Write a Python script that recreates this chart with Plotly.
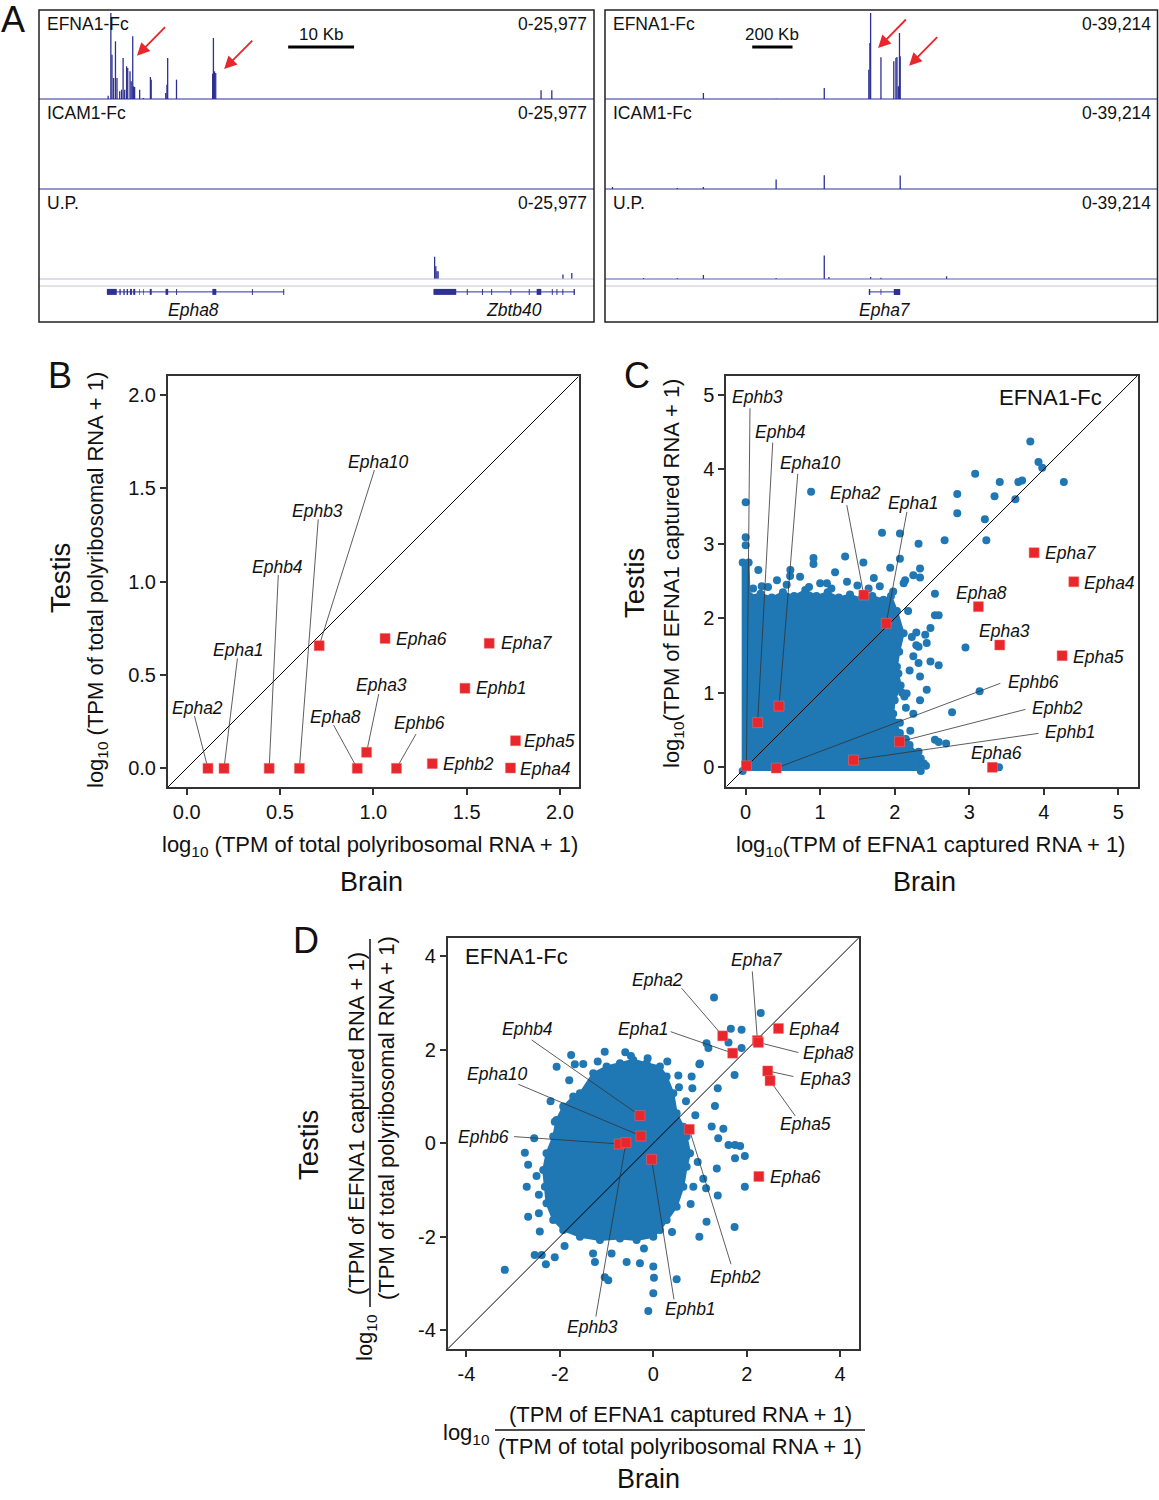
import plotly.graph_objects as go

W, H = 1159, 1500
FONT = "Liberation Sans, Arial, sans-serif"
BLUE = "#1f77b4"
RED = "#e8262b"
NAVY = "#2e3192"

# ---------------- panel A: coverage tracks ----------------
# left locus, x = kb from left edge of the view
a_left_span = 84.2
a_left_max = 25977
efna1_left_pos = [10.49, 10.90, 11.07, 11.31, 11.60, 11.83, 12.24, 12.53, 12.76, 13.00, 13.29, 13.46,
                  13.81, 13.99, 14.22, 14.34, 14.51, 15.27, 15.85, 16.90, 17.02, 19.23, 19.41, 19.52,
                  20.86, 26.34, 26.46, 26.63, 26.81, 76.17, 77.80]
efna1_left_val = [1000, 25977, 13390, 6340, 17420, 6340, 2320, 2820, 12380, 2820, 9870, 9360,
                  8360, 5340, 18930, 3830, 3620, 2820, 300, 6650, 5840, 1810, 4330, 12380,
                  5840, 7650, 18430, 8360, 7850, 2620, 2620]
icam1_left_pos = []
icam1_left_val = []
up_left_pos = [60.02, 60.20, 60.37, 60.55, 79.49, 80.83]
up_left_val = [6650, 3830, 2320, 2320, 1310, 1810]
genes_left = ["Epha8", "Zbtb40"]
genes_left_span = [(10.3, 37.2), (59.85, 81.3)]
genes_left_exons = [
    [(10.3, 11.8), (12.2, 12.4), (12.8, 13.0), (13.3, 13.5), (13.8, 14.1), (14.3, 14.6), (15.2, 15.3),
     (15.8, 15.9), (16.8, 17.1), (19.2, 19.6), (20.8, 20.95), (26.3, 26.9), (32.3, 32.45), (37.05, 37.2)],
    [(59.85, 63.3), (64.9, 65.05), (67.2, 67.35), (68.6, 68.75), (71.5, 71.65), (74.3, 74.45),
     (75.5, 76.2), (77.8, 77.95), (78.5, 78.65), (79.4, 79.55), (81.1, 81.3)],
]
genes_left_label_x = [23.4, 72.1]

# right locus
a_right_span = 2743
a_right_max = 39214
efna1_right_pos = [488.5, 849.6, 1088.6, 1309.8, 1315.1, 1318.7, 1370.0, 1433.7, 1444.3, 1449.6,
                   1456.7, 1462.0, 1465.6]
efna1_right_val = [2736, 152, 5016, 13375, 25535, 39214, 19000, 17175, 18695, 19150, 5776, 30095, 19455]
icam1_right_pos = [37.2, 359.3, 488.5, 849.6, 1088.6, 1465.6]
icam1_right_val = [912, 456, 912, 4256, 6232, 6080]
up_right_pos = [191.2, 359.3, 488.5, 849.6, 1088.6, 1111.6, 1318.7, 1370.0, 1695.7]
up_right_val = [456, 456, 1824, 456, 10640, 912, 912, 608, 1216]
genes_right = ["Epha7"]
genes_right_span = [(1309.8, 1465.6)]
genes_right_exons = [[(1309.8, 1316.9), (1368.0, 1372.0), (1433.7, 1465.6)]]
genes_right_label_x = [1389.5]

track_names = ["EFNA1-Fc", "ICAM1-Fc", "U.P."]

# ---------------- panel B ----------------
b_genes = ["Epha2", "Epha1", "Ephb4", "Ephb3", "Epha10", "Epha6", "Epha7", "Epha3", "Epha8", "Ephb6",
           "Ephb2", "Ephb1", "Epha5", "Epha4"]
b_x = [0.114, 0.20, 0.442, 0.604, 0.71, 1.063, 1.621, 0.964, 0.914, 1.124, 1.316, 1.491, 1.762, 1.735]
b_y = [0, 0, 0, 0, 0.657, 0.696, 0.67, 0.086, 0, 0, 0.025, 0.429, 0.148, 0.002]
b_ticks = [0.0, 0.5, 1.0, 1.5, 2.0]

# ---------------- panel C ----------------
c_genes = ["Ephb3", "Ephb6", "Ephb4", "Epha10", "Epha2", "Epha1", "Ephb2", "Ephb1", "Epha6", "Epha8",
           "Epha3", "Epha7", "Epha5", "Epha4"]
c_x = [0.01, 0.41, 0.161, 0.448, 1.586, 1.886, 2.065, 1.447, 3.311, 3.123, 3.41, 3.871, 4.247, 4.404]
c_y = [0.02, -0.01, 0.60, 0.823, 2.313, 1.933, 0.344, 0.098, 0.0, 2.157, 1.642, 2.881, 1.499, 2.491]
c_ticks = [0, 1, 2, 3, 4, 5]
# dense bulk of genes (outline) and the sparse genes outside it
c_cloud_x = [-0.04, -0.04, 0.04, 0.05, 0.2, 0.35, 0.5, 0.65, 0.8, 0.95, 1.1, 1.25, 1.4, 1.55, 1.7,
             1.85, 1.95, 2.03, 2.12, 2.06, 2.03, 2.08, 2.0, 1.98, 2.02, 2.07, 2.15, 2.2, 2.3, 2.35, 2.35]
c_cloud_y = [-0.05, 2.75, 2.75, 2.3, 2.33, 2.28, 2.35, 2.3, 2.38, 2.3, 2.35, 2.28, 2.32, 2.26, 2.3,
             2.25, 2.3, 2.1, 1.8, 1.55, 1.35, 1.1, 0.9, 0.72, 0.6, 0.46, 0.38, 0.3, 0.19, 0.12, -0.05]
c_out_x = [0, 0, 0, 0.878, 1.83, 2.07, 2.32, 2.67, 1.335, 1.58, 0.91, 1.2, 0.17, 0.596, 1.94, 2.07,
           2.14, 2.34, 2.54, 2.59, 2.84, 2.84, 3.08, 3.21, 3.23, 3.34, 3.41, 3.62, 3.66, 3.71, 3.82,
           3.93, 3.98, 4.27, 2.95, 2.48, 2.43, 2.29, 2.29, 2.32, 3.14, 2.77, 2.59, 2.48, 2.34, 2.43,
           2.34, 2.25, 2.21, 2.07, 2.54, 2.59, 2.69, 2.39, 2.42, 3.40, 2.16, 2.32, 2.13, 2.05, 2.25,
           2.32, 2.41, 2.54, 2.23, 0.91, 0.6, 0.215, 0.42, 0.73, 1.09, 1.36, 1.72, 1.98, 2.12, 2.25, 2.34,
           0.1, 0.3, 0.55, 0.85, 1.0, 1.15, 1.5, 1.65, 1.8, 2.18, 2.2, 2.1, 2.15]
c_out_y = [3.56, 3.09, 2.98, 3.70, 3.15, 3.14, 3.0, 3.05, 2.83, 2.75, 2.73, 2.62, 2.65, 2.57, 2.68,
           2.8, 2.51, 2.55, 2.33, 2.04, 3.67, 3.41, 3.94, 3.33, 3.05, 3.64, 3.83, 3.60, 3.83, 3.85,
           4.375, 4.1, 4.02, 3.83, 1.61, 1.87, 1.67, 1.81, 1.64, 1.40, 1.02, 0.74, 1.37, 1.42, 1.22,
           1.04, 0.90, 0.72, 0.49, 0.60, 0.37, 0.34, 0.32, 0.05, 0.02, 0.0, 0.99, 0.21, 0.95, 1.26,
           1.49, 1.62, 1.78, 2.04, 1.75, 2.81, 2.65, 2.43, 2.51, 2.56, 2.47, 2.49, 2.54, 2.36, 2.47,
           2.58, 2.67, 2.4, 2.42, 2.45, 2.42, 2.47, 2.4, 2.44, 2.4, 2.43, 2.1, 1.3, 1.0, 0.8]

# ---------------- panel D ----------------
d_genes = ["Epha2", "Epha1", "Epha7", "Epha8", "Epha4", "Epha3", "Epha5", "Epha6", "Ephb4", "Epha10",
           "Ephb6", "Ephb3", "Ephb1", "Ephb2"]
d_x = [1.486, 1.70, 2.23, 2.25, 2.68, 2.45, 2.5, 2.26, -0.286, -0.264, -0.73, -0.586, -0.036, 0.771]
d_y = [2.30, 1.93, 2.2, 2.16, 2.46, 1.55, 1.34, -0.71, 0.593, 0.157, -0.014, 0.014, -0.343, 0.30]
d_ticks = [-4, -2, 0, 2, 4]
d_cloud_x = [-1.571, -1.286, -1.0, -0.714, -0.429, -0.143, 0.143, 0.286, 0.429, 0.5, 0.643, 0.714,
             0.786, 0.714, 0.643, 0.5, 0.286, 0.143, 0.0, -0.357, -0.714, -1.143, -1.571, -1.929,
             -2.143, -2.286, -2.321, -2.357, -2.286, -2.143, -2.071, -1.929, -1.714]
d_cloud_y = [1.071, 1.5, 1.643, 1.714, 1.786, 1.714, 1.643, 1.429, 1.071, 0.643, 0.357, 0.143,
             -0.214, -0.5, -0.929, -1.357, -1.643, -1.857, -2.0, -2.071, -2.036, -2.071, -2.0, -1.857,
             -1.643, -1.286, -0.929, -0.571, -0.214, 0.143, 0.5, 0.786, 1.0]
d_out_x = [-3.18, 1.3, 2.3, 1.66, 1.89, 1.14, 1.18, 1.61, 1.89, 1.74, 0.986, 1.38, 1.32, 1.25, 1.5,
           1.39, 1.61, 1.75, 1.86, 1.96, 1.75, 1.96, 1.36, 1.38, 1.07, 1.13, 0.857, 1.14, 0.986, 1.74,
           0.5, 0.014, 0, -0.107, 0, -0.286, -0.571, -0.964, -1.04, -1.25, -1.29, -0.893, -2.3, -2.54,
           -2.39, -2.11, -2.43, -2.68, -2.71, -2.68, -2.75, -2.55, -2.11, -2.07, -1.76, -1.68, -1.19,
           -1.04, -0.479, -0.121, 0.536, 0.821, 0.836, 1.0,
           -2.45, -2.5, -2.45, -2.2, -1.8, -1.5, -0.6, 0.3, 0.55, 0.7, 0.9, 0.95, 0.8, 0.4, -0.2, -1.9]
d_out_y = [-2.71, 3.12, 2.79, 2.45, 2.43, 2.14, 2.04, 2.16, 2.04, 1.46, 1.69, 1.18, 0.8, 0.36, 0.31,
           0.11, -0.036, -0.036, -0.057, -0.27, -0.32, -0.93, -0.54, -1.12, -0.76, -0.96, -0.93, -1.68,
           -2.0, -1.79, -2.91, -2.88, -3.21, -3.59, -2.64, -2.57, -2.54, -2.93, -2.87, -2.54, -2.36,
           -2.36, -2.59, -2.39, -2.39, -2.44, -1.89, -1.57, -0.93, -0.46, -0.2, 0.107, 0.46, 1.64,
           1.89, 1.69, 1.75, 1.96, 1.87, 1.82, 1.45, 1.43, 1.18, 1.71,
           -1.1, -0.7, -1.5, 0.9, 1.35, 1.7, 1.95, 1.75, 1.2, 0.9, 0.6, -0.4, -1.3, -1.9, -2.25, -2.2]

# label placement (text position, anchor, start of the leader line)
b_labels = {
    "Epha2": (0.057, 0.325, "center", (0.042, 0.28)), "Epha1": (0.28, 0.634, "center", (0.272, 0.589)),
    "Ephb4": (0.484, 1.077, "center", (0.491, 1.036)), "Ephb3": (0.699, 1.379, "center", (0.705, 1.334)),
    "Epha10": (1.029, 1.643, "center", (1.006, 1.598)), "Epha6": (1.11, 0.691, "left", None),
    "Epha7": (1.676, 0.67, "left", None), "Epha3": (1.042, 0.446, "center", (1.029, 0.398)),
    "Epha8": (0.8, 0.277, "center", (0.787, 0.232)), "Ephb6": (1.248, 0.241, "center", (1.229, 0.184)),
    "Ephb2": (1.362, 0.023, "left", None), "Ephb1": (1.537, 0.429, "left", None),
    "Epha5": (1.796, 0.146, "left", None), "Epha4": (1.775, -0.005, "left", None),
}
c_labels = {
    "Ephb3": (0.157, 4.978, "center", (0.058, 4.82)), "Ephb4": (0.461, 4.504, "center", (0.363, 4.36)),
    "Epha10": (0.865, 4.08, "center", (0.699, 3.94)), "Epha2": (1.47, 3.68, "center", (1.357, 3.52)),
    "Epha1": (2.25, 3.55, "center", (2.164, 3.43)), "Epha7": (3.99, 2.88, "left", None),
    "Epha4": (4.516, 2.48, "left", None), "Epha8": (3.17, 2.344, "center", None),
    "Epha3": (3.47, 1.83, "center", None), "Epha5": (4.368, 1.485, "left", None),
    "Ephb6": (3.5, 1.15, "left", (3.418, 1.128)), "Ephb2": (3.81, 0.792, "left", (3.755, 0.778)),
    "Ephb1": (3.99, 0.47, "left", (3.93, 0.456)), "Epha6": (3.365, 0.188, "center", None),
}
d_labels = {
    "Epha7": (2.21, 3.93, "center", (2.12, 3.68)), "Epha2": (0.086, 3.5, "center", (0.607, 3.32)),
    "Epha1": (-0.214, 2.44, "center", (0.371, 2.39)), "Epha4": (2.86, 2.44, "left", None),
    "Epha8": (3.16, 1.93, "left", (3.107, 1.943)), "Epha3": (3.09, 1.37, "left", (3.0, 1.43)),
    "Epha5": (3.26, 0.414, "center", (3.04, 0.586)), "Epha6": (2.45, -0.714, "left", None),
    "Ephb4": (-2.7, 2.44, "center", (-2.607, 2.214)), "Epha10": (-3.34, 1.48, "center", (-2.89, 1.264)),
    "Ephb6": (-3.63, 0.143, "center", (-2.98, 0.143)), "Ephb3": (-1.3, -3.93, "center", (-1.23, -3.71)),
    "Ephb1": (0.8, -3.55, "center", (0.443, -3.34)), "Ephb2": (1.75, -2.87, "center", (1.664, -2.59)),
}


def fx(p):
    return p / W


def fy(p):
    return 1 - p / H


fig = go.Figure()
annots = []
shapes = []
layout_axes = {}


def add_line(xs, ys, xa, ya, color, width):
    fig.add_trace(go.Scatter(x=xs, y=ys, mode="lines", line=dict(color=color, width=width),
                             xaxis=xa, yaxis=ya, hoverinfo="skip", showlegend=False))


def spikes(pos, val):
    xs, ys = [], []
    for p, v in zip(pos, val):
        xs += [p, p, None]
        ys += [0, v, None]
    return xs, ys


def txt(x, y, s, size, xref="paper", yref="paper", xanchor="center", angle=0, yanchor="middle"):
    annots.append(dict(x=x, y=y, xref=xref, yref=yref, text=s, showarrow=False, xanchor=xanchor,
                       yanchor=yanchor, textangle=angle, font=dict(family=FONT, size=size, color="#111")))


# ---------- panel A ----------
bands = [(10, 99), (99, 189), (189, 279)]
gene_band = (279, 322)
panels_a = [
    dict(xa="x", yn=[1, 2, 3, 4], left=39, right=594, span=a_left_span, amax=a_left_max,
         tracks=[(efna1_left_pos, efna1_left_val), (icam1_left_pos, icam1_left_val), (up_left_pos, up_left_val)],
         genes=genes_left, gspan=genes_left_span, exons=genes_left_exons, glx=genes_left_label_x,
         base3="#b9b9dc", bar=(37.8, 10, "10 Kb"),
         arrows=[(14.86, 13090, 19.35, 22150), (28.09, 9060, 32.58, 18120)]),
    dict(xa="x2", yn=[5, 6, 7, 8], left=605, right=1157.5, span=a_right_span, amax=a_right_max,
         tracks=[(efna1_right_pos, efna1_right_val), (icam1_right_pos, icam1_right_val), (up_right_pos, up_right_val)],
         genes=genes_right, gspan=genes_right_span, exons=genes_right_exons, glx=genes_right_label_x,
         base3="#5a5ab4", bar=(731, 200, "200 Kb"),
         arrows=[(1355.8, 23255, 1501, 36934), (1509.8, 15199, 1656.7, 28879)]),
]

for i, pa in enumerate(panels_a):
    xa = pa["xa"]
    xkey = "xaxis" if xa == "x" else "xaxis2"
    ykeys = ["yaxis" if n == 1 else "yaxis%d" % n for n in pa["yn"]]
    yrefs = ["y" if n == 1 else "y%d" % n for n in pa["yn"]]
    layout_axes[xkey] = dict(domain=[fx(pa["left"]), fx(pa["right"])], range=[0, pa["span"]],
                             visible=False, anchor=yrefs[0])
    for k, (top, bot) in enumerate(bands):
        pad = 3
        layout_axes[ykeys[k]] = dict(domain=[fy(bot), fy(top)], range=[0, pa["amax"] * (bot - top) / (bot - top - pad)],
                                     visible=False, anchor=xa)
        pos, val = pa["tracks"][k]
        if pos:
            xs, ys = spikes(pos, val)
            add_line(xs, ys, xa, yrefs[k], NAVY, 1.3)
        txt(fx(pa["left"] + 6), fy(top + 14), track_names[k], 17.5, xanchor="left")
        txt(fx(pa["right"] - 5), fy(top + 14), "0-" + format(pa["amax"], ","), 17.5, xanchor="right")
    layout_axes[ykeys[3]] = dict(domain=[fy(gene_band[1]), fy(gene_band[0])], range=[0, 1],
                                 visible=False, anchor=xa)
    # track separators / baselines
    for yy, col in [(99, NAVY), (189, NAVY), (279, pa["base3"]), (286, "#c8c8d0")]:
        shapes.append(dict(type="line", xref="paper", yref="paper", x0=fx(pa["left"]), x1=fx(pa["right"]),
                           y0=fy(yy), y1=fy(yy), line=dict(color=col, width=1)))
    # gene models
    for g, (g0, g1), ex, lx in zip(pa["genes"], pa["gspan"], pa["exons"], pa["glx"]):
        add_line([g0, g1], [0.7, 0.7], xa, yrefs[3], NAVY, 1)
        exs, eys = [], []
        for e0, e1 in ex:
            exs += [e0, max(e1, e0 + pa["span"] / 900), None]
            eys += [0.7, 0.7, None]
        add_line(exs, eys, xa, yrefs[3], NAVY, 6)
        txt(lx, fy(310), "<i>%s</i>" % g, 17.5, xref=xa)
    # scale bar
    b0, blen, blab = pa["bar"]
    shapes.append(dict(type="line", xref=xa, yref="paper", x0=b0, x1=b0 + blen, y0=fy(47), y1=fy(47),
                       line=dict(color="black", width=3)))
    txt(b0 + blen / 2, fy(35), blab, 17, xref=xa)
    # arrows
    for hx, hy, tx, ty in pa["arrows"]:
        annots.append(dict(x=hx, y=hy, ax=tx, ay=ty, xref=xa, yref=yrefs[0], axref=xa, ayref=yrefs[0],
                           text="", showarrow=True, arrowhead=2, arrowsize=1.4, arrowwidth=1.8,
                           arrowcolor=RED))
    # box frame
    shapes.append(dict(type="rect", xref="paper", yref="paper", x0=fx(pa["left"]), x1=fx(pa["right"]),
                       y0=fy(322), y1=fy(10), line=dict(color="#222", width=1.5)))

txt(fx(13), fy(19), "A", 36)

# ---------- scatter panels ----------
scat = [
    dict(xa="x3", ya="y9", xk="xaxis3", yk="yaxis9", left=168, right=578.6, top=376.4, bottom=787,
         rng=[-0.1, 2.1], ticks=b_ticks, fmt="%.1f", genes=b_genes, gx=b_x, gy=b_y, labels=b_labels,
         cloud=None, out=None),
    dict(xa="x4", ya="y10", xk="xaxis4", yk="yaxis10", left=726.3, right=1137.6, top=375.5, bottom=786.7,
         rng=[-0.26, 5.26], ticks=c_ticks, fmt="%d", genes=c_genes, gx=c_x, gy=c_y, labels=c_labels,
         cloud=(c_cloud_x, c_cloud_y), out=(c_out_x, c_out_y)),
    dict(xa="x5", ya="y11", xk="xaxis5", yk="yaxis11", left=447.8, right=858.8, top=937.8, bottom=1348.8,
         rng=[-4.4, 4.4], ticks=d_ticks, fmt="%d", genes=d_genes, gx=d_x, gy=d_y, labels=d_labels,
         cloud=(d_cloud_x, d_cloud_y), out=(d_out_x, d_out_y)),
]

for sp in scat:
    common = dict(range=sp["rng"], tickvals=sp["ticks"], ticktext=[sp["fmt"] % t for t in sp["ticks"]],
                  showline=True, mirror=True, linecolor="#333", linewidth=2, ticks="outside", ticklen=6,
                  tickwidth=1.5, tickcolor="#333", showgrid=False, zeroline=False,
                  tickfont=dict(family=FONT, size=20, color="#111"))
    layout_axes[sp["xk"]] = dict(domain=[fx(sp["left"]), fx(sp["right"])], anchor=sp["ya"], **common)
    layout_axes[sp["yk"]] = dict(domain=[fy(sp["bottom"]), fy(sp["top"])], anchor=sp["xa"], **common)
    if sp["cloud"]:
        cx, cy = sp["cloud"]
        fig.add_trace(go.Scatter(x=cx, y=cy, mode="lines+markers", fill="toself", fillcolor=BLUE,
                                 line=dict(color=BLUE, width=2), marker=dict(color=BLUE, size=8),
                                 xaxis=sp["xa"], yaxis=sp["ya"], hoverinfo="skip", showlegend=False))
        ox, oy = sp["out"]
        fig.add_trace(go.Scatter(x=ox, y=oy, mode="markers", marker=dict(color=BLUE, size=8),
                                 xaxis=sp["xa"], yaxis=sp["ya"], hoverinfo="skip", showlegend=False))
    lo, hi = sp["rng"]
    add_line([lo, hi], [lo, hi], sp["xa"], sp["ya"], "black", 1)
    lxs, lys = [], []
    for g, x, y in zip(sp["genes"], sp["gx"], sp["gy"]):
        tx, ty, anc, start = sp["labels"][g]
        if start:
            lxs += [start[0], x, None]
            lys += [start[1], y, None]
        txt(tx, ty, "<i>%s</i>" % g, 17.5, xref=sp["xa"], yref=sp["ya"], xanchor=anc)
    add_line(lxs, lys, sp["xa"], sp["ya"], "#333", 0.8)
    fig.add_trace(go.Scatter(x=sp["gx"], y=sp["gy"], mode="markers",
                             marker=dict(symbol="square", color=RED, size=10, line=dict(color="#f07070", width=0.5)),
                             xaxis=sp["xa"], yaxis=sp["ya"], hoverinfo="skip", showlegend=False))

# panel titles and axis titles
txt(fx(60), fy(376), "B", 36)
txt(fx(637), fy(376), "C", 36)
txt(fx(306), fy(940), "D", 36)

txt(fx(97), fy(580), "log<sub>10</sub> (TPM of total polyribosomal RNA + 1)", 22, angle=-90)
txt(fx(60), fy(578), "Testis", 27.5, angle=-90)
txt(fx(370), fy(846), "log<sub>10</sub> (TPM of total polyribosomal RNA + 1)", 22)
txt(fx(371), fy(882), "Brain", 27)

txt(fx(673), fy(574), "log<sub>10</sub>(TPM of EFNA1 captured RNA + 1)", 22, angle=-90)
txt(fx(634), fy(583), "Testis", 27.5, angle=-90)
txt(fx(930), fy(846), "log<sub>10</sub>(TPM of EFNA1 captured RNA + 1)", 22)
txt(fx(924), fy(882), "Brain", 27)
txt(4.085, 4.97, "EFNA1-Fc", 22, xref="x4", yref="y10")
txt(-4.07, 3.99, "EFNA1-Fc", 22, xref="x5", yref="y11", xanchor="left")

# panel D fraction titles
txt(fx(356), fy(1124), "(TPM of EFNA1 captured RNA + 1)", 22, angle=-90)
txt(fx(386), fy(1118), "(TPM of total polyribosomal RNA + 1)", 22, angle=-90)
shapes.append(dict(type="line", xref="paper", yref="paper", x0=fx(370), x1=fx(370), y0=fy(1307), y1=fy(939),
                   line=dict(color="#111", width=1.5)))
txt(fx(366), fy(1338), "log<sub>10</sub>", 22, angle=-90)
txt(fx(308), fy(1145), "Testis", 27.5, angle=-90)

txt(fx(680), fy(1414), "(TPM of EFNA1 captured RNA + 1)", 22)
txt(fx(680), fy(1446), "(TPM of total polyribosomal RNA + 1)", 22)
shapes.append(dict(type="line", xref="paper", yref="paper", x0=fx(495), x1=fx(865), y0=fy(1430), y1=fy(1430),
                   line=dict(color="#111", width=1.5)))
txt(fx(466), fy(1434), "log<sub>10</sub>", 22)
txt(fx(648), fy(1479), "Brain", 27)

fig.update_layout(width=W, height=H, autosize=False, margin=dict(l=0, r=0, t=0, b=0),
                  paper_bgcolor="white", plot_bgcolor="white", showlegend=False,
                  annotations=annots, shapes=shapes, **layout_axes)

# page body has a default margin; drop it so the figure sits at the top-left corner
fig.write_html("out.html", config={"displayModeBar": False},
               post_script="document.body.style.margin='0';")
